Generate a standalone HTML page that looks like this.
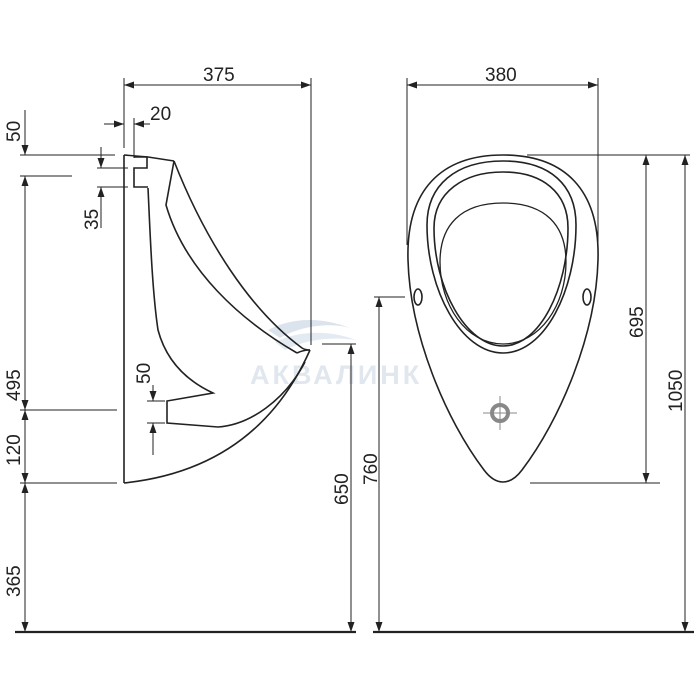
<!DOCTYPE html>
<html><head><meta charset="utf-8"><style>
html,body{margin:0;padding:0;background:#fff;}
svg{display:block;}
text{font-family:"Liberation Sans",sans-serif;font-size:19px;fill:#222;}
</style></head><body>
<svg width="700" height="700" viewBox="0 0 700 700" xmlns="http://www.w3.org/2000/svg">
<defs>
<marker id="a" viewBox="0 0 10 7" refX="10" refY="3.5" markerWidth="10" markerHeight="7" markerUnits="userSpaceOnUse" orient="auto-start-reverse">
<path d="M0,0 L10,3.5 L0,7 z" fill="#222"/></marker>
</defs>
<g opacity="0.5">
<path d="M268,330 C290,318 320,316 350,328 C330,322 300,326 280,338 Z" fill="#b8c8dc"/>
<path d="M275,342 C300,330 330,330 356,340 C330,336 305,340 285,350 Z" fill="#c8d6e6"/>
<text x="250" y="384" style="font-size:27px;font-weight:bold;fill:#c4d0de;letter-spacing:3px">АКВАЛИНК</text>
</g>
<g stroke="#222" stroke-width="1" fill="none">
<line x1="124" y1="78" x2="124" y2="148"/>
<line x1="311" y1="78" x2="311" y2="345"/>
<line x1="124" y1="85" x2="311" y2="85" marker-start="url(#a)" marker-end="url(#a)"/>
<line x1="134" y1="118" x2="134" y2="158"/>
<line x1="104" y1="124" x2="124" y2="124" marker-end="url(#a)"/>
<line x1="150" y1="124" x2="134" y2="124" marker-end="url(#a)"/>
<line x1="20" y1="155" x2="115" y2="155"/>
<line x1="20" y1="176" x2="72" y2="176"/>
<line x1="20" y1="410" x2="117" y2="410"/>
<line x1="20" y1="483" x2="117" y2="483"/>
<line x1="25" y1="110" x2="25" y2="155" marker-end="url(#a)"/>
<line x1="25" y1="176" x2="25" y2="410" marker-start="url(#a)" marker-end="url(#a)"/>
<line x1="25" y1="410" x2="25" y2="483" marker-start="url(#a)" marker-end="url(#a)"/>
<line x1="25" y1="483" x2="25" y2="632" marker-start="url(#a)" marker-end="url(#a)"/>
<line x1="97" y1="168" x2="128" y2="168"/>
<line x1="97" y1="187" x2="128" y2="187"/>
<line x1="101" y1="147" x2="101" y2="168" marker-end="url(#a)"/>
<line x1="101" y1="228" x2="101" y2="187" marker-end="url(#a)"/>
<line x1="147" y1="401" x2="165" y2="401"/>
<line x1="147" y1="423" x2="165" y2="423"/>
<line x1="153" y1="385" x2="153" y2="401" marker-end="url(#a)"/>
<line x1="153" y1="455" x2="153" y2="423" marker-end="url(#a)"/>
<line x1="322" y1="344" x2="356" y2="344"/>
<line x1="351" y1="344" x2="351" y2="632" marker-start="url(#a)" marker-end="url(#a)"/>
<g stroke-width="1.6">
<path d="M124,155 L124,483"/>
<path d="M124,155 L148,157 L174,161"/>
<path d="M134,157 L147,157 L147,168 L134,168 L134,187 L148,187"/>
<path d="M174,161 C205,240 250,310 302,348 C305,350 308,350 310,350"/>
<path d="M310,350 C270,440 200,475 124,483"/>
<path d="M174,161 L166,205 C185,270 240,320 297,353"/>
<path d="M297,353 C301,351 306,350 310,350"/>
<path d="M148,188 C150,230 152,290 158,330 C166,360 185,380 213,393 L167,401 L167,423 L218,427 C250,425 285,400 305,362"/>
</g>
<line x1="407" y1="78" x2="407" y2="245"/>
<line x1="598" y1="78" x2="598" y2="245"/>
<line x1="407" y1="85" x2="598" y2="85" marker-start="url(#a)" marker-end="url(#a)"/>
<line x1="527" y1="155" x2="690" y2="155"/>
<line x1="530" y1="483" x2="660" y2="483"/>
<line x1="646" y1="155" x2="646" y2="483" marker-start="url(#a)" marker-end="url(#a)"/>
<line x1="685" y1="155" x2="685" y2="632" marker-start="url(#a)" marker-end="url(#a)"/>
<line x1="374" y1="297" x2="405" y2="297"/>
<line x1="379" y1="297" x2="379" y2="632" marker-start="url(#a)" marker-end="url(#a)"/>
<g stroke-width="1.6">
<path d="M503,155 C565,155 600,190 598,260 C596,335 560,420 522,470 C510,486 496,486 484,470 C446,420 410,335 408,260 C406,190 441,155 503,155 Z"/>
<path d="M503,161 C550,161 576,185 576,225 C576,290 545,353 503,353 C461,353 427,290 427,225 C427,185 456,161 503,161 Z"/>
<path d="M503,172 C542,172 568,192 568,228 C568,288 540,346 503,346 C466,346 434,288 434,228 C434,192 464,172 503,172 Z"/>
<path d="M503,203 C545,203 566,225 566,262 C566,305 540,344 503,344 C466,344 440,305 440,262 C440,225 461,203 503,203 Z" stroke-width="1.3"/>
<ellipse cx="418" cy="297" rx="4" ry="8"/>
<ellipse cx="587" cy="297" rx="4" ry="8"/>
</g>
<g stroke="#888">
<circle cx="500" cy="413" r="8" stroke-width="4"/>
<line x1="483" y1="413" x2="517" y2="413"/>
<line x1="500" y1="396" x2="500" y2="430"/>
</g>
<line x1="15" y1="632" x2="356" y2="632" stroke-width="2.2"/>
<line x1="373" y1="632" x2="694" y2="632" stroke-width="2.2"/>
</g>
<text x="203" y="81">375</text>
<text x="150" y="120">20</text>
<text x="485" y="81">380</text>
<g>
<text transform="translate(20,142) rotate(-90)">50</text>
<text transform="translate(20,401) rotate(-90)">495</text>
<text transform="translate(20,466) rotate(-90)">120</text>
<text transform="translate(20,597) rotate(-90)">365</text>
<text transform="translate(98,230) rotate(-90)">35</text>
<text transform="translate(150,384) rotate(-90)">50</text>
<text transform="translate(348,505) rotate(-90)">650</text>
<text transform="translate(377,485) rotate(-90)">760</text>
<text transform="translate(643,338) rotate(-90)">695</text>
<text transform="translate(682,412) rotate(-90)">1050</text>
</g>
</svg>
</body></html>
